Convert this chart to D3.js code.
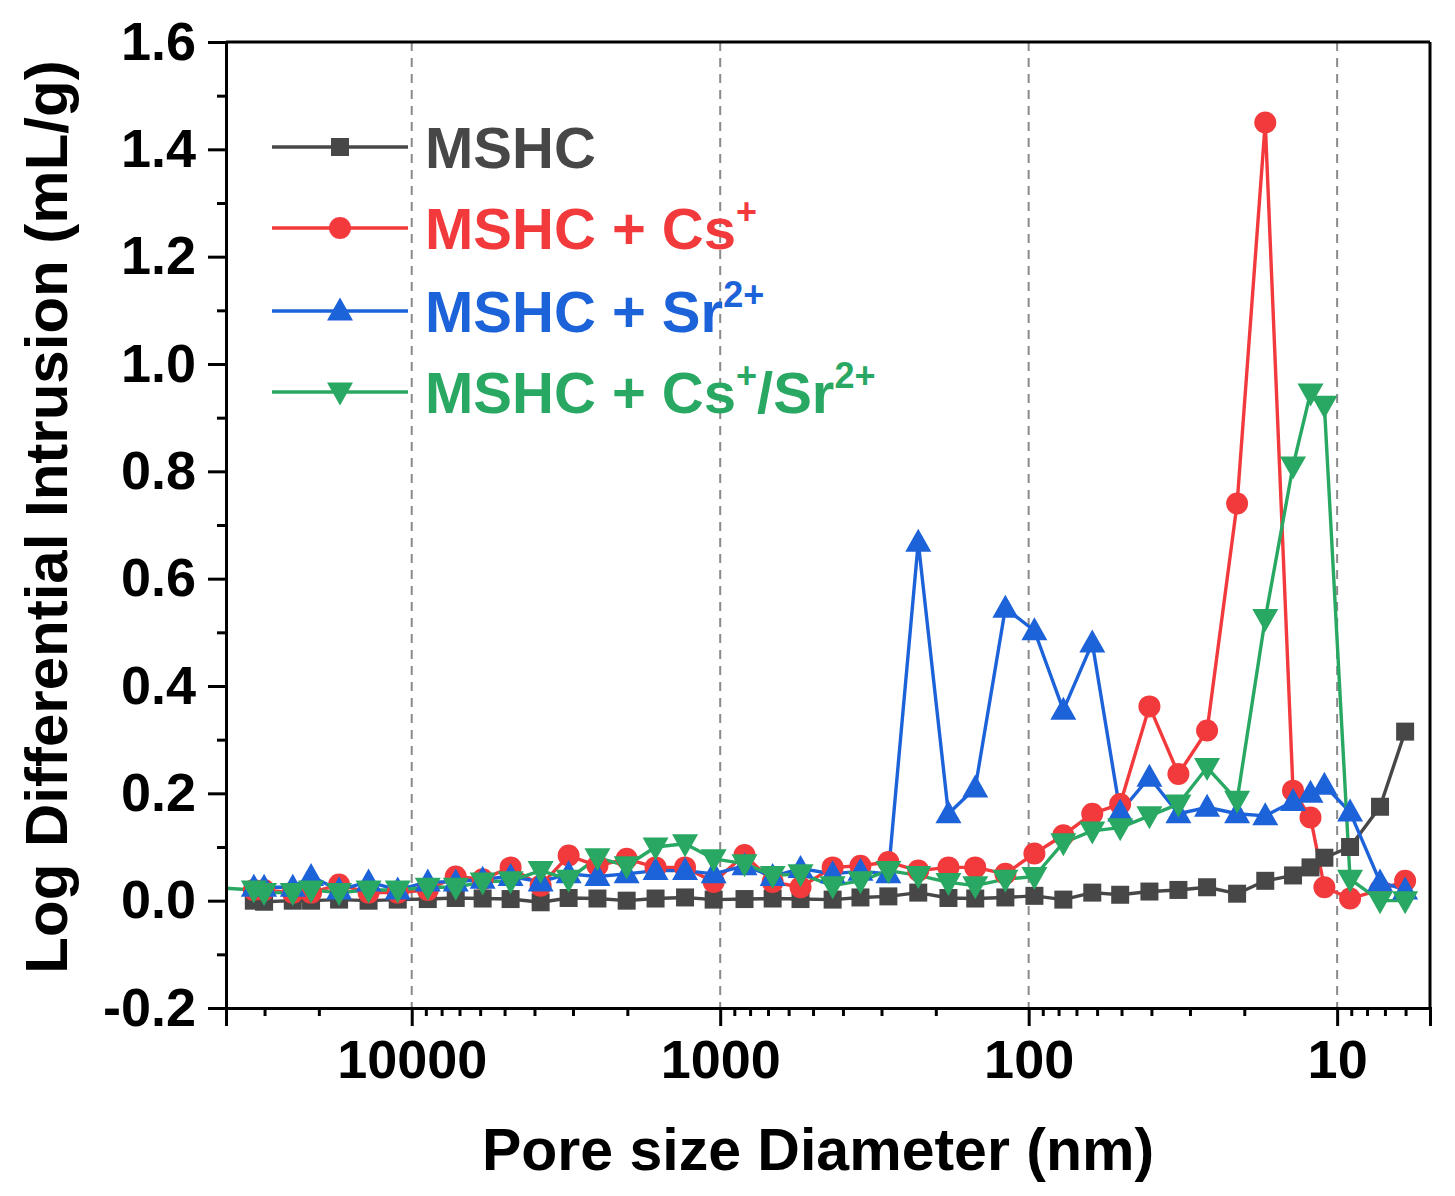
<!DOCTYPE html>
<html>
<head>
<meta charset="utf-8">
<script src="https://cdn.jsdelivr.net/npm/d3@7"></script>
<style>
  html, body { margin: 0; padding: 0; background: #fff; }
  svg { display: block; }
  text { font-family: "Liberation Sans", Arial, sans-serif; font-weight: bold; }
</style>
</head>
<body>
<svg id="chart" width="1455" height="1196"></svg>
<script>
// ---- data (pore diameter in nm, log differential intrusion in mL/g) ----
const diameters = [45000, 32500, 30100, 24300, 21200, 17200, 13800, 11100, 8870, 7200, 5890,
  4780, 3820, 3100, 2500, 2010, 1620, 1300, 1050, 834, 676,
  549, 432, 351, 285, 228, 182, 149, 119, 95.8, 77.2,
  62.2, 50.5, 40.6, 32.7, 26.4, 21.1, 17.1, 13.9, 12.2, 11.0,
  9.08, 7.26, 6.02];

const mshc = [null, 0.0, -0.002, 0.0, 0.0, 0.002, 0.0, 0.002, 0.003, 0.005, 0.004,
  0.003, -0.003, 0.005, 0.004, 0.0, 0.004, 0.006, 0.002, 0.003, 0.004,
  0.003, 0.002, 0.006, 0.008, 0.015, 0.005, 0.004, 0.006, 0.009, 0.002,
  0.015, 0.011, 0.017, 0.02, 0.025, 0.013, 0.037, 0.047, 0.062, 0.08,
  0.1, 0.175, 0.315];

const mshcCs = [null, 0.02, 0.02, 0.015, 0.015, 0.03, 0.015, 0.015, 0.02, 0.045, 0.04,
  0.062, 0.028, 0.084, 0.065, 0.078, 0.062, 0.062, 0.035, 0.085, 0.035,
  0.025, 0.062, 0.065, 0.072, 0.056, 0.062, 0.062, 0.05, 0.088, 0.122,
  0.162, 0.18, 0.362, 0.236, 0.317, 0.74, 1.45, 0.205, 0.155, 0.025,
  0.004, 0.02, 0.037];

const mshcSr = [null, 0.025, 0.025, 0.025, 0.045, 0.02, 0.035, 0.02, 0.035, 0.035, 0.04,
  0.045, 0.035, 0.05, 0.045, 0.05, 0.056, 0.056, 0.05, 0.065, 0.045,
  0.06, 0.05, 0.055, 0.05, 0.668, 0.162, 0.21, 0.545, 0.503, 0.355,
  0.48, 0.165, 0.23, 0.162, 0.174, 0.162, 0.158, 0.185, 0.2, 0.215,
  0.165, 0.035, 0.02];

const mshcCsSr = [0.025, 0.02, 0.015, 0.015, 0.02, 0.015, 0.02, 0.02, 0.025, 0.025, 0.035,
  0.037, 0.056, 0.04, 0.08, 0.065, 0.1, 0.106, 0.078, 0.069, 0.047,
  0.05, 0.028, 0.037, 0.056, 0.047, 0.034, 0.028, 0.04, 0.045, 0.108,
  0.13, 0.136, 0.158, 0.18, 0.248, 0.187, 0.526, 0.81, 0.946, 0.923,
  0.04, 0.0, 0.0];

const xTickValues = [10000, 1000, 100, 10];
const yTickValues = [-0.2, 0.0, 0.2, 0.4, 0.6, 0.8, 1.0, 1.2, 1.4, 1.6];

const seriesList = [
  { values: mshc, color: "#474747", symbol: "square", label: [["MSHC", null]] },
  { values: mshcCs, color: "#F23A3C", symbol: "circle", label: [["MSHC + Cs", "+"]] },
  { values: mshcSr, color: "#1C62D9", symbol: "up", label: [["MSHC + Sr", "2+"]] },
  { values: mshcCsSr, color: "#28A862", symbol: "down", label: [["MSHC + Cs", "+"], ["/Sr", "2+"]] }
];

// ---- layout ----
const L = 226, R = 1430, T = 42, B = 1008;
const svg = d3.select("#chart");

const x = d3.scaleLog().domain([40000, 5]).range([L, R]);
const y = d3.scaleLinear().domain([-0.2, 1.6]).range([B, T]);

// dashed grid lines at major x ticks
svg.append("g").selectAll("line").data(xTickValues).join("line")
  .attr("x1", d => x(d)).attr("x2", d => x(d))
  .attr("y1", T).attr("y2", B)
  .attr("stroke", "#8a8a8a").attr("stroke-width", 2)
  .attr("stroke-dasharray", "9,7");

// clip
svg.append("clipPath").attr("id", "clip").append("rect")
  .attr("x", L).attr("y", T).attr("width", R - L).attr("height", B - T);

// symbols
function drawMarker(g, sym, cx, cy, color) {
  if (sym === "square") {
    g.append("rect").attr("x", cx - 9).attr("y", cy - 9).attr("width", 18).attr("height", 18).attr("fill", color);
  } else if (sym === "circle") {
    g.append("circle").attr("cx", cx).attr("cy", cy).attr("r", 11).attr("fill", color);
  } else if (sym === "up") {
    g.append("path").attr("d", `M${cx},${cy - 13.5}L${cx + 13},${cy + 9.5}L${cx - 13},${cy + 9.5}Z`).attr("fill", color);
  } else {
    g.append("path").attr("d", `M${cx},${cy + 13.5}L${cx + 13},${cy - 9.5}L${cx - 13},${cy - 9.5}Z`).attr("fill", color);
  }
}

const plot = svg.append("g").attr("clip-path", "url(#clip)");
seriesList.forEach(s => {
  const pts = diameters.map((d, i) => ({ d, v: s.values[i] })).filter(p => p.v !== null);
  const line = d3.line().x(p => x(p.d)).y(p => y(p.v));
  plot.append("path").datum(pts).attr("d", line)
    .attr("fill", "none").attr("stroke", s.color).attr("stroke-width", 3.4)
    .attr("stroke-linejoin", "round");
});
seriesList.forEach(s => {
  const g = plot.append("g");
  diameters.forEach((d, i) => {
    const v = s.values[i];
    if (v === null) return;
    drawMarker(g, s.symbol, x(d), y(v), s.color);
  });
});

// ---- axes ----
const minorX = [];
for (let k = 0; k <= 4; k++) {
  for (let m = 2; m <= 9; m++) {
    const v = m * Math.pow(10, k);
    if (v <= 40000 && v >= 5) minorX.push(v);
  }
}
const minorY = d3.range(-0.1, 1.6, 0.2).map(v => +v.toFixed(1));

const axisStyle = g => {
  g.select(".domain").attr("stroke", "#000").attr("stroke-width", 3);
  g.selectAll(".tick line").attr("stroke", "#000").attr("stroke-width", 3);
  g.selectAll(".tick text").attr("fill", "#000").style("font-size", "54px").style("font-weight", "bold")
    .style("font-family", '"Liberation Sans", Arial, sans-serif');
};

svg.append("g").attr("transform", `translate(0,${B})`)
  .call(d3.axisBottom(x).tickValues(minorX).tickSize(8).tickFormat(""))
  .call(axisStyle);
svg.append("g").attr("transform", `translate(0,${B})`)
  .call(d3.axisBottom(x).tickValues(xTickValues).tickSize(18).tickPadding(14).tickFormat(d3.format("d")))
  .call(axisStyle);

const yFmt = v => d3.format(".1f")(v).replace("\u2212", "-");
svg.append("g").attr("transform", `translate(${L},0)`)
  .call(d3.axisLeft(y).tickValues(minorY).tickSize(9).tickFormat(""))
  .call(axisStyle);
svg.append("g").attr("transform", `translate(${L},0)`)
  .call(d3.axisLeft(y).tickValues(yTickValues).tickSize(18).tickPadding(12).tickFormat(yFmt))
  .call(axisStyle);

// top and right border
svg.append("line").attr("x1", L).attr("x2", R).attr("y1", T).attr("y2", T).attr("stroke", "#000").attr("stroke-width", 3);
svg.append("line").attr("x1", R).attr("x2", R).attr("y1", T).attr("y2", B).attr("stroke", "#000").attr("stroke-width", 3);

// axis titles
svg.append("text").attr("x", 818).attr("y", 1170).attr("text-anchor", "middle")
  .style("font-size", "59px").text("Pore size Diameter (nm)");
svg.append("text").attr("transform", `translate(67,517) rotate(-90)`).attr("text-anchor", "middle")
  .style("font-size", "60px").text("Log Differential Intrusion (mL/g)");

// ---- legend ----
const legendRows = [147, 228, 311, 392];
const leg = svg.append("g");
seriesList.forEach((s, i) => {
  const ry = legendRows[i];
  leg.append("line").attr("x1", 272).attr("x2", 408).attr("y1", ry).attr("y2", ry)
    .attr("stroke", s.color).attr("stroke-width", 3.4);
  drawMarker(leg, s.symbol, 340, ry, s.color);
  const t = leg.append("text").attr("x", 425).attr("y", ry + 21).attr("fill", s.color).style("font-size", "58px");
  let raised = false;
  s.label.forEach(([base, sp]) => {
    const b = t.append("tspan").text(base);
    if (raised) { b.attr("dy", 25); raised = false; }
    if (sp) {
      t.append("tspan").attr("dy", -25).style("font-size", "36px").text(sp);
      raised = true;
    }
  });
});
</script>
</body>
</html>
